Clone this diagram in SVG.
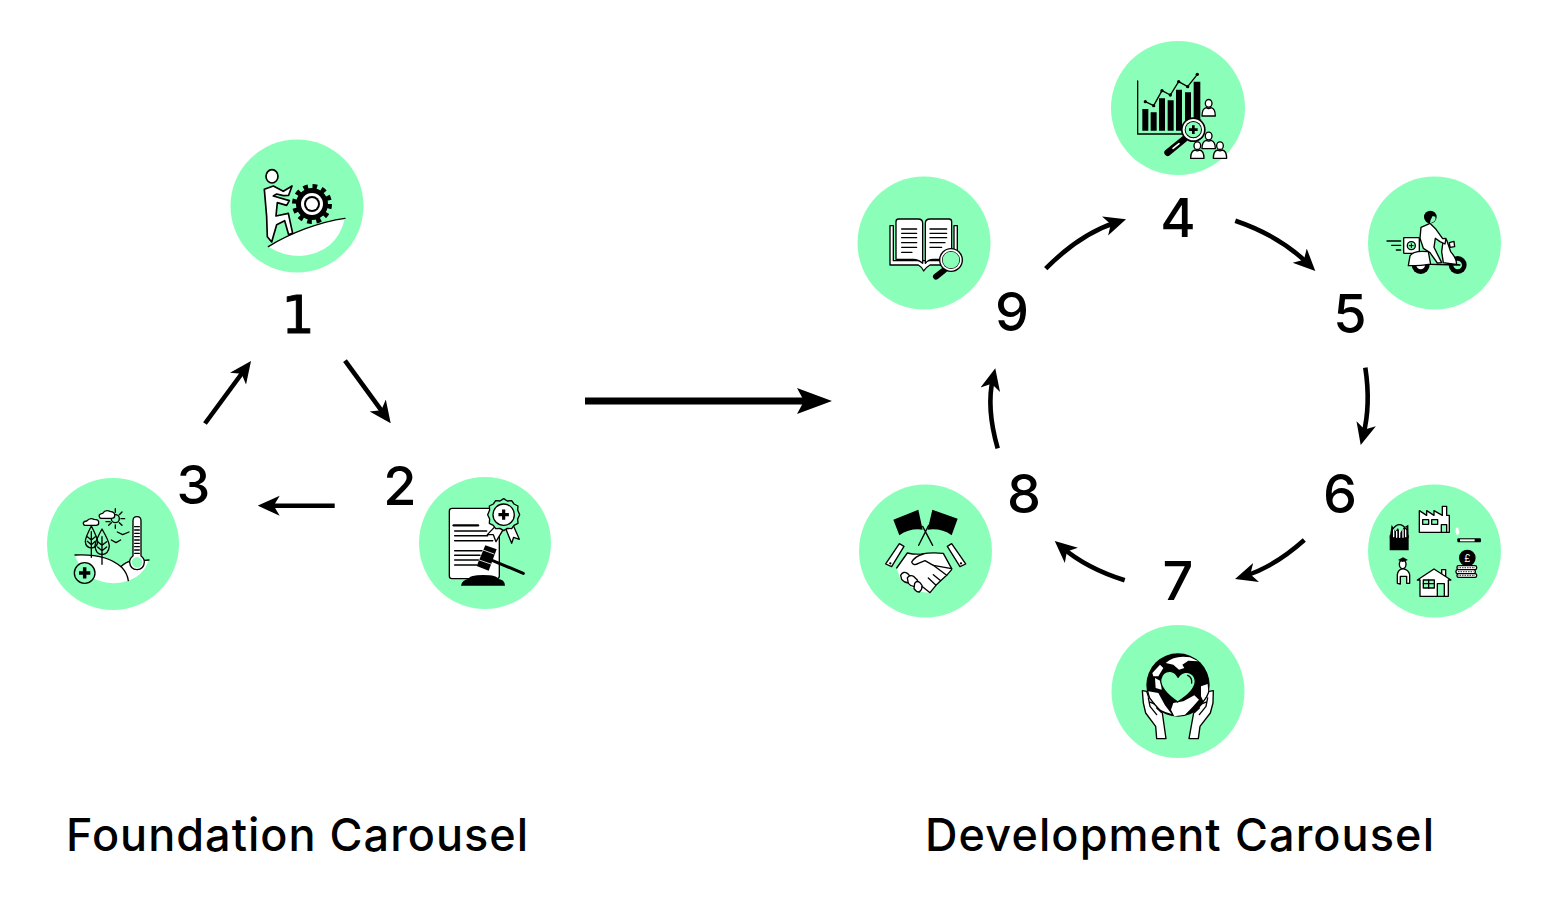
<svg xmlns="http://www.w3.org/2000/svg" xmlns:xlink="http://www.w3.org/1999/xlink" width="1550" height="909" viewBox="0 0 1550 909">
<style>
.bg{fill:#8bffba}
.d{font-family:"Inter","Liberation Sans",sans-serif;font-size:54px;font-weight:500;fill:#000;text-anchor:middle}
.t{font-family:"Inter","Liberation Sans",sans-serif;font-size:45px;font-weight:500;fill:#000}
.c{fill:none;stroke:#000;stroke-width:4.600}
.ic{stroke-linejoin:round;stroke-linecap:round}
.k{fill:none;stroke:#000;stroke-width:4}
.K{fill:#000;stroke:none}
.w{fill:#fff;stroke:#000;stroke-width:4}
.W{fill:#fff;stroke:none}
.m{fill:#8bffba;stroke:#000;stroke-width:4}
</style>
<defs>
<marker id="h" markerUnits="userSpaceOnUse" markerWidth="22" markerHeight="22" refX="12" refY="11" orient="auto" viewBox="0 0 22 22"><path d="M22,11 L0,1 L6,11 L0,21 Z" fill="#000"/></marker>
<marker id="H" markerUnits="userSpaceOnUse" markerWidth="35" markerHeight="28" refX="13" refY="14" orient="auto" viewBox="0 0 35 28"><path d="M35,14 L0,1 L7,14 L0,27 Z" fill="#000"/></marker>
<g id="pl"><path d="M-13,0H13M0,-13V13" fill="none" stroke="#000" stroke-width="8" stroke-linecap="butt"/></g>
<g id="p"><ellipse cx="0" cy="0" rx="10" ry="11.500" class="w"/><path d="M-20,38 Q-20,16 -7,13 Q0,18 7,13 Q20,16 20,38 Z" class="w"/></g>
</defs>

<g id="connectors">
<path class="c" marker-end="url(#h)" d="M205,423.500L245.100,369"/>
<path class="c" marker-end="url(#h)" d="M345,360.700L384.800,415.200"/>
<path class="c" marker-end="url(#h)" d="M334.700,505.700H267.700"/>
<path class="c" marker-end="url(#H)" style="stroke-width:7" d="M585,401H810"/>
<path class="c" marker-end="url(#h)" d="M1045.700,268.700Q1080,234 1116.500,222.300"/>
<path class="c" marker-end="url(#h)" d="M1235.300,220.700Q1280,236 1308.200,264"/>
<path class="c" marker-end="url(#h)" d="M1365.300,367.700Q1371,405 1363.200,435.300"/>
<path class="c" marker-end="url(#h)" d="M1304.300,540Q1274,567 1244.600,576"/>
<path class="c" marker-end="url(#h)" d="M1124.700,580.300Q1086,568 1062.300,547.500"/>
<path class="c" marker-end="url(#h)" d="M997.700,448.300Q986,408 993,378"/>
</g>

<g id="node1">
<circle class="bg" cx="297" cy="206" r="66.500"/>
<g class="ic" transform="translate(220,130) scale(.3333)">
<circle cx="276" cy="222" r="48" class="K"/>
<circle cx="276" cy="222" r="53" fill="none" stroke="#000" stroke-width="14" stroke-linecap="butt" stroke-dasharray="14 13.750"/>
<circle cx="276" cy="222" r="33" class="W"/><circle cx="276" cy="222" r="24" class="K"/><circle cx="276" cy="222" r="18" class="W"/>
<path class="W" d="M145,350C210,310 300,275 375,265Q350,370 240,378Q190,378 145,350Z"/>
<path class="k" d="M145,350C210,310 300,275 375,265"/>
<path class="w" d="M133,178L160,168L190,184L216,168L206,196L190,197L170,192L160,198L208,212L200,226L172,218L168,258L205,250L218,310L206,314L194,272L170,284L155,336L142,320L140,260Z" style="stroke-width:5"/>
<ellipse cx="156" cy="139" rx="18" ry="20" class="w" style="stroke-width:5"/>
</g>
</g>

<g id="node2">
<circle class="bg" cx="485" cy="543" r="66"/>
<g class="ic" transform="translate(410,470) scale(.3333)">
<rect x="118" y="115" width="150" height="211" rx="8" class="w" style="stroke-width:4"/>
<path class="k" style="stroke-width:7" d="M131,166H204"/>
<path class="k" style="stroke-width:4.500" d="M134,183H230M134,197H233M134,212H248M134,242H216M134,256H210M134,270H205M134,285H200"/>
<path class="w" d="M255,170L232,194L250,194L258,215L280,178Z"/>
<path class="w" d="M288,178L305,220L311,202L328,208L308,162Z"/>
<path class="m" d="M281,86L292,93L305,92L312,102L324,108L323,120L329,134L323,147L324,160L312,166L305,176L292,175L281,182L270,175L257,176L250,166L238,160L239,147L233,134L239,120L238,108L250,102L257,92L270,93Z"/>
<circle cx="281" cy="134" r="32" class="w" style="stroke-width:4"/>
<use xlink:href="#pl" href="#pl" transform="translate(281,134) scale(1.200)"/>
<path class="K" d="M226,226L260,238L236,302L200,288Z"/>
<path d="M219,240L252,252M208,270L242,282" stroke="#fff" stroke-width="2.500" fill="none"/>
<path d="M248,272L340,310" stroke="#000" stroke-width="9" fill="none"/>
<path class="K" d="M153,347H285Q285,328 262,326Q262,315 220,315Q178,315 176,326Q155,330 153,347Z"/>
</g>
</g>

<g id="node3">
<circle class="bg" cx="113" cy="544" r="66"/>
<g class="ic" transform="translate(40,470) scale(.3333)">
<path class="W" d="M105,255Q190,250 242,288Q265,272 290,272L325,272Q305,335 220,340Q130,335 105,255Z"/>
<path class="k" d="M105,255Q200,250 245,292Q262,310 265,332M242,290Q262,272 278,274M305,272L327,270"/>
<circle cx="134" cy="309" r="31" class="m" style="stroke-width:4"/>
<use xlink:href="#pl" href="#pl" transform="translate(134,309) scale(1.300)"/>
<path class="k" d="M154,168Q135,205 136,215Q137,232 154,234Q172,232 173,215Q173,205 154,168ZM154,185V262M154,210L142,200M154,210L166,200M154,224L142,214M154,224L166,214"/>
<path class="k" d="M186,177Q165,215 165,228Q167,252 186,254Q206,252 208,228Q208,215 186,177ZM186,200V283M186,226L173,215M186,226L200,215M186,242L173,231M186,242L200,231"/>
<path class="w" d="M132,165Q125,155 140,153Q150,142 162,148Q178,148 176,160Q176,166 168,166H135Z"/>
<circle cx="226" cy="146" r="12" class="k"/>
<path class="k" d="M226,116V127M246,126L238,134M254,146H243M246,166L238,158M226,175V165M206,166L214,158M198,155H210"/>
<path class="w" d="M180,144Q172,132 188,130Q196,118 210,124Q226,126 224,138Q224,145 214,145H184Z"/>
<path class="k" d="M232,186L248,194L267,186M214,210L228,218L242,210"/>
<path class="w" style="stroke-width:4" d="M279,152Q279,140 291,140Q303,140 303,152V258Q314,266 313,277Q311,298 291,299Q271,298 269,277Q268,266 279,258Z"/>
<path class="k" d="M284,170H298M284,180H298M284,190H298M284,200H298M284,210H298M284,220H298M284,230H298M284,240H298M284,250H298"/>
<circle cx="291" cy="277" r="16" class="bg"/>
</g>
</g>

<g id="node4">
<circle class="bg" cx="1178" cy="108" r="67"/>
<g class="ic" transform="translate(1105,35) scale(.3333)">
<path class="k" d="M98,138V297H235"/>
<path class="K" d="M112,222h18v65h-18zM137,232h18v55h-18zM162,190h18v97h-18zM188,196h18v91h-18zM213,164h18v123h-18zM240,172h18v115h-18zM266,140h20v147h-20z"/>
<path class="k" d="M121,200L146,212L171,167L196,180L221,140L248,155L277,118"/>
<g class="K"><circle cx="121" cy="200" r="5"/><circle cx="146" cy="212" r="5"/><circle cx="171" cy="167" r="5"/><circle cx="196" cy="180" r="5"/><circle cx="221" cy="140" r="5"/><circle cx="248" cy="155" r="5"/><circle cx="277" cy="118" r="5"/></g>
<use xlink:href="#p" href="#p" transform="translate(311,205)"/>
<use xlink:href="#p" href="#p" transform="translate(311,303)"/>
<use xlink:href="#p" href="#p" transform="translate(277,332)"/>
<use xlink:href="#p" href="#p" transform="translate(345,332)"/>
<path d="M238,312L188,353" stroke="#000" stroke-width="20" fill="none"/>
<path d="M222,326L204,340" stroke="#fff" stroke-width="5" fill="none"/>
<circle cx="265" cy="284" r="37" class="K"/><circle cx="265" cy="284" r="32" class="W"/><circle cx="265" cy="284" r="26" class="K"/><circle cx="265" cy="284" r="23" class="bg"/>
<use xlink:href="#pl" href="#pl" transform="translate(265,284)"/>
</g>
</g>

<g id="node5">
<circle class="bg" cx="1434.500" cy="243" r="66.500"/>
<g class="ic" transform="translate(1360,170) scale(.3333)">
<path class="k" d="M81,213H122M95,226H122M109,240H122"/>
<circle cx="182" cy="285" r="27" class="K"/><circle cx="182" cy="285" r="13" class="W"/>
<circle cx="293" cy="285" r="27" class="K"/><circle cx="293" cy="285" r="13" class="bg"/>
<rect x="131" y="203" width="47" height="47" rx="2" class="w"/>
<circle cx="154" cy="227" r="12" class="m"/>
<path d="M148,227H160M154,221V233" stroke="#000" stroke-width="3"/>
<path class="w" d="M145,287L150,258Q160,240 205,245L212,283L290,285Q290,265 272,245L260,210L250,208L245,245L250,278L300,285Q270,284 235,283H205Q190,287 145,287Z"/>
<path class="w" d="M282,214L268,218L270,232L284,230Z"/>
<path class="w" d="M183,172L210,160L228,178L248,206L258,205L255,222L240,215L226,205L222,232L245,278L232,279L210,248L190,235L180,205Z"/>
<circle cx="211" cy="141" r="19" class="K"/>
<path class="bg" d="M210,160Q230,155 226,140L218,138Q210,150 210,160Z"/>
</g>
</g>

<g id="node6">
<circle class="bg" cx="1434.500" cy="551" r="66.500"/>
<g class="ic" transform="translate(1360,478) scale(.3333)">
<path class="w" d="M178,163V98L200,112V98L222,112V98L247,112V85H260V112L268,112V163Z"/>
<rect x="188" y="125" width="18" height="14" class="m"/><rect x="215" y="125" width="18" height="14" class="m"/><rect x="244" y="140" width="16" height="23" class="m"/>
<rect x="292" y="181" width="71" height="12" rx="3" class="K"/><rect x="300" y="184" width="44" height="6" class="W"/>
<path class="W" d="M288,150Q296,146 296,155Q302,165 292,172Q284,165 288,150Z"/>
<circle cx="322" cy="240" r="25" class="K"/>
<text x="322" y="251" font-family="Inter,'Liberation Sans',sans-serif" font-size="30" fill="#fff" text-anchor="middle">£</text>
<rect x="291" y="263" width="59" height="12" rx="5" class="w"/><rect x="288" y="275" width="58" height="12" rx="5" class="w"/><rect x="291" y="287" width="59" height="11" rx="5" class="w"/>
<path d="M296,269H345M294,281H340M296,292H345" stroke="#000" stroke-width="4" stroke-dasharray="2 3" stroke-linecap="butt" fill="none"/>
<rect x="245" y="275" width="12" height="20" class="w"/>
<path class="w" d="M180,355V306H172L222,273L273,306H265V355Z"/>
<rect x="190" y="306" width="33" height="24" class="m"/><path class="k" d="M206,306V330M190,317H223"/>
<rect x="232" y="317" width="21" height="38" class="m"/>
<path class="w" d="M112,316V290Q114,275 128,272Q146,275 149,290V316H140V295H121V318Z"/>
<ellipse cx="128" cy="259" rx="10" ry="13" class="w"/>
<path class="K" d="M114,246L129,238L144,246L128,252Z"/>
<path class="K" d="M89,170L95,178H140L146,170V217H89Z"/>
<path class="K" d="M95,140L106,160L114,150L120,165L132,148L145,140L146,180H89Z"/>
<path d="M101,150V176M110,160V178M119,158V178M129,155V178M137,148V176" stroke="#fff" stroke-width="4" fill="none"/>
<path class="k" d="M97,155Q118,125 140,155"/>
</g>
</g>

<g id="node7">
<circle class="bg" cx="1178" cy="691.500" r="66.500"/>
<g class="ic" transform="translate(1105,618) scale(.3333)">
<circle cx="219" cy="201" r="95" class="K"/>
<path class="W" d="M182,135Q210,110 255,118L280,130L250,128L232,140L238,150L222,155L205,140ZM142,165L165,140L175,150L160,175L145,175ZM150,180L168,190L170,215L152,210ZM130,220L160,225L180,262L200,288Q165,280 140,255ZM205,255L235,250L268,232L282,245L262,268L240,290L208,295L198,275ZM288,205L308,198L310,225L295,250L288,235Z"/>
<path class="m" d="M218,252Q165,215 167,185Q172,158 197,160Q212,163 219,178Q227,163 245,162Q270,165 271,190Q270,220 218,252Z"/>
<path d="M248,172Q262,178 260,195" class="k"/>
<path class="w" d="M112,218L125,220L130,235L148,258L172,285L183,362H155L152,325L122,285L115,255Z"/>
<path class="k" d="M130,240L135,265L155,290M148,258L133,252M168,282L155,270"/>
<path class="w" d="M325,218L312,220L306,235L290,258L266,285L252,362H280L285,325L316,285L324,255Z"/>
<path class="k" d="M308,240L303,265L283,290M290,258L305,252M270,282L283,270"/>
</g>
</g>

<g id="node8">
<circle class="bg" cx="925.500" cy="551" r="66.500"/>
<g class="ic" transform="translate(850,478) scale(.3333)">
<path class="K" d="M130,125L205,95L218,155Q180,150 148,172Z"/>
<path class="K" d="M247,95L323,122L305,172Q275,150 233,155Z"/>
<path class="k" d="M206,202L236,142M248,202L218,145"/>
<path class="w" d="M148,197L162,205L125,266L107,258Z"/>
<path class="w" d="M305,197L292,205L330,266L347,258Z"/>
<circle cx="121" cy="256" r="3.500" class="K"/><circle cx="333" cy="256" r="3.500" class="K"/>
<path class="W" d="M172,225L280,226L306,275L275,305L240,345L200,340L150,300L140,270Z"/>
<path class="k" d="M172,225L140,270M172,225Q195,230 215,228Q245,222 280,226L305,272"/>
<path class="w" d="M220,228Q195,235 185,252Q190,265 205,256L225,248L250,262L290,292L272,308L250,290M272,308L258,322L235,300M258,322L240,344L212,322"/>
<path class="k" d="M250,262L305,272M290,292L305,275"/>
<path class="w" d="M152,292Q160,278 172,286L182,296Q186,302 176,314Q165,316 155,304Z"/>
<path class="w" d="M172,300Q180,288 192,296L202,306Q206,314 194,325Q184,327 175,316Z"/>
<path class="w" d="M194,316Q200,306 210,314L216,322Q218,332 208,342Q198,342 192,332Z"/>
</g>
</g>

<g id="node9">
<circle class="bg" cx="924" cy="243" r="66.500"/>
<g class="ic" transform="translate(850,170) scale(.3333)">
<path class="w" d="M120,167V285H205Q215,290 221,303Q230,290 240,285H322V167H312V272H130V167Z"/>
<path class="w" d="M138,155Q138,147 146,147H205Q218,147 218,160V280Q205,268 190,268H138Z"/>
<path class="w" d="M226,160Q226,147 240,147H297Q305,147 305,155V268H250Q235,268 226,280Z"/>
<path class="k" d="M155,177H200M155,190H200M155,203H200M155,218H200M155,232H200M155,247H186M240,177H290M240,190H290M240,203H290M240,218H285M240,232H275"/>
<path d="M283,300L258,320" stroke="#000" stroke-width="18" fill="none"/>
<circle cx="303" cy="270" r="36" class="K"/><circle cx="303" cy="270" r="32" class="W"/><circle cx="303" cy="270" r="27" class="K"/><circle cx="303" cy="270" r="25" class="bg"/>
</g>
</g>

<g id="numbers">
<text class="d" x="298" y="333" style="font-family:'DejaVu Sans',sans-serif;font-size:52px;font-weight:400;stroke:#000;stroke-width:1">1</text>
<text class="d" x="400" y="505">2</text>
<text class="d" x="193.500" y="504">3</text>
<text class="d" x="1178" y="237">4</text>
<text class="d" x="1350" y="332.500">5</text>
<text class="d" x="1340" y="512.500">6</text>
<text class="d" x="1178" y="600">7</text>
<text class="d" x="1024" y="513">8</text>
<text class="d" x="1012" y="331">9</text>
</g>
<text class="t" x="66" y="851" textLength="462" lengthAdjust="spacing">Foundation Carousel</text>
<text class="t" x="925" y="851" textLength="509" lengthAdjust="spacing">Development Carousel</text>
</svg>
